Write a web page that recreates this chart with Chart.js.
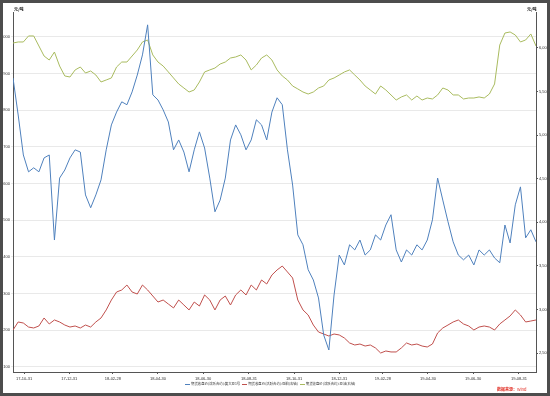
<!DOCTYPE html>
<html>
<head>
<meta charset="utf-8">
<script src="https://cdn.jsdelivr.net/npm/chart.js@4.4.0/dist/chart.umd.min.js"></script>
<style>
  html, body { margin: 0; padding: 0; background: #fff; }
  #wrap { position: relative; width: 550px; height: 396px; overflow: hidden;
          font-family: "Noto Sans CJK SC", "Liberation Sans", sans-serif; }
  #frame { position: absolute; left: 0; top: 0; width: 550px; height: 396px; box-sizing: border-box;
           border: 3px solid #4d4d4d; pointer-events: none; }
  canvas { position: absolute; left: 0; top: 0; }
  .unit { position: absolute; top: 7px; font-size: 4px; line-height: 5px; color: #222; font-weight: bold; }
  #legend { position: absolute; top: 381px; left: 183px; font-size: 3.4px; line-height: 5px; color: #333; white-space: nowrap; }
  #legend i { display: inline-block; width: 5px; height: 1px; vertical-align: middle; margin: 0 1px 0 2px; }
  #source { position: absolute; top: 387px; left: 497px; font-size: 4px; line-height: 5px; color: #e0281e; white-space: nowrap; }
</style>
</head>
<body>
<div id="wrap">
  <canvas id="js-chart-soy" width="550" height="396"></canvas>
  <div class="unit" style="left:14px">元/吨</div>
  <div class="unit" style="left:527px">元/吨</div>
  <div id="legend"></div>
  <div id="source"><b>数据来源：</b>Wind</div>
  <div id="frame"></div>
</div>
<script>
// weekly closes, first week starting here
const startDate = '2017-10-16';

const seriesNames = [
  '期货收盘价(活跃合约):黄大豆1号',
  '期货收盘价(活跃合约):豆粕(右轴)',
  '期货收盘价(活跃合约):豆油(右轴)'
];
const seriesColors = ['#4f81bd', '#c0504d', '#a9bb5f'];

// left axis
const soyBean = [
  3888, 3787, 3678, 3632, 3643, 3632, 3670, 3678, 3446, 3615,
  3637, 3670, 3692, 3686, 3569, 3534, 3569, 3610, 3692, 3760,
  3795, 3823, 3815, 3850, 3896, 3951, 4033, 3842, 3828, 3801,
  3768, 3692, 3719, 3686, 3632, 3692, 3741, 3697, 3615, 3523,
  3555, 3615, 3719, 3760, 3733, 3692, 3719, 3774, 3760, 3719,
  3795, 3834, 3815, 3692, 3596, 3460, 3433, 3365, 3337, 3288,
  3187, 3146, 3296, 3405, 3378, 3433, 3419, 3446, 3405, 3419,
  3460, 3446, 3487, 3515, 3419, 3386, 3419, 3405, 3433, 3419,
  3446, 3501, 3615, 3555, 3496, 3441, 3405, 3392, 3405, 3378,
  3419, 3405, 3419, 3397, 3384, 3487, 3438, 3542, 3591, 3452,
  3474, 3441
];

// right axis
const soyMeal = [
  2764, 2856, 2844, 2798, 2787, 2810, 2902, 2833, 2879, 2856,
  2821, 2798, 2810, 2787, 2821, 2798, 2856, 2902, 2994, 3108,
  3200, 3223, 3280, 3200, 3177, 3280, 3223, 3154, 3085, 3108,
  3062, 3017, 3108, 3051, 2994, 3085, 3039, 3166, 3108, 2994,
  3108, 3154, 3051, 3166, 3223, 3166, 3280, 3223, 3338, 3292,
  3395, 3453, 3498, 3430, 3361, 3108, 2994, 2936, 2821, 2741,
  2718, 2695, 2718, 2707, 2672, 2615, 2592, 2603, 2580, 2592,
  2558, 2500, 2523, 2512, 2512, 2558, 2615, 2592, 2603, 2580,
  2569, 2603, 2730, 2787, 2821, 2856, 2879, 2833, 2810, 2764,
  2798, 2810, 2798, 2764, 2833, 2879, 2925, 2994, 2936, 2856,
  2867, 2879
];

const soyOil = [
  6057, 6069, 6069, 6138, 6138, 6023, 5908, 5862, 5954, 5793,
  5679, 5667, 5748, 5782, 5713, 5736, 5690, 5610, 5633, 5656,
  5782, 5839, 5839, 5908, 5977, 6069, 6092, 5920, 5839, 5793,
  5725, 5656, 5587, 5541, 5495, 5518, 5610, 5725, 5748, 5770,
  5816, 5839, 5885, 5897, 5920, 5862, 5748, 5805, 5885, 5920,
  5862, 5748, 5679, 5633, 5564, 5530, 5495, 5472, 5495, 5541,
  5564, 5633, 5656, 5690, 5725, 5748, 5690, 5633, 5564, 5518,
  5472, 5564, 5518, 5461, 5403, 5438, 5461, 5403, 5449, 5403,
  5426, 5415, 5461, 5541, 5518, 5461, 5461, 5415, 5426, 5426,
  5438, 5426, 5472, 5587, 6034, 6172, 6184, 6149, 6069, 6092,
  6161, 6023
];

const tickDates = [
  '2017-10-31', '2017-12-31', '2018-02-28', '2018-04-30', '2018-06-30', '2018-08-31',
  '2018-10-31', '2018-12-31', '2019-02-28', '2019-04-30', '2019-06-30', '2019-08-31'
];
const leftTicks = [3100, 3200, 3300, 3400, 3500, 3600, 3700, 3800, 3900, 4000];
const rightTicks = [2500, 3000, 3500, 4000, 4500, 5000, 5500, 6000];

// build date categories and chart data
const day0 = Date.parse(startDate);
const dayOf = (s) => (Date.parse(s) - day0) / 864e5;
const weeks = soyBean.map((_, i) => new Date(day0 + i * 7 * 864e5).toISOString().slice(0, 10));
const toPoints = (arr) => arr.map((v, i) => ({ x: dayOf(weeks[i]), y: v }));

// legend as page text
document.getElementById('legend').innerHTML = seriesNames
  .map((n, i) => '<i style="background:' + seriesColors[i] + '"></i>' + n)
  .join('');

Chart.defaults.font.family = '"Liberation Sans", Arial, sans-serif';
Chart.defaults.font.size = 4;
Chart.defaults.color = '#333';

const tickFont = { size: 4, family: '"Liberation Sans", Arial, sans-serif' };

new Chart(document.getElementById('js-chart-soy'), {
  type: 'line',
  data: {
    datasets: [
      { label: seriesNames[0], data: toPoints(soyBean), yAxisID: 'yL', borderColor: seriesColors[0] },
      { label: seriesNames[1], data: toPoints(soyMeal), yAxisID: 'yR', borderColor: seriesColors[1] },
      { label: seriesNames[2], data: toPoints(soyOil), yAxisID: 'yR', borderColor: seriesColors[2] }
    ]
  },
  options: {
    responsive: false,
    animation: false,
    devicePixelRatio: 1,
    layout: { padding: { top: 12, left: 0, right: 0, bottom: 0 } },
    elements: {
      line: { borderWidth: 1, tension: 0 },
      point: { radius: 0, hoverRadius: 0 }
    },
    plugins: { legend: { display: false }, tooltip: { enabled: false } },
    scales: {
      x: {
        type: 'linear',
        min: 0,
        max: dayOf(weeks[weeks.length - 1]),
        afterBuildTicks: (s) => { s.ticks = tickDates.map((d) => ({ value: dayOf(d) })); },
        afterFit: (s) => { s.height = 24; },
        ticks: {
          font: tickFont, padding: 2, maxRotation: 0, autoSkip: false,
          callback: (v, i) => tickDates[i].slice(2)
        },
        grid: { drawOnChartArea: false, tickLength: 2, color: '#555' },
        border: { color: '#555' }
      },
      yL: {
        position: 'left',
        min: 3086,
        max: 4068,
        afterBuildTicks: (s) => { s.ticks = leftTicks.map((v) => ({ value: v })); },
        afterFit: (s) => { s.width = 13; },
        ticks: { font: tickFont, padding: 1 },
        grid: { color: '#e9e9e9', tickLength: 2 },
        border: { color: '#555' }
      },
      yR: {
        position: 'right',
        min: 2282,
        max: 6413,
        afterBuildTicks: (s) => { s.ticks = rightTicks.map((v) => ({ value: v })); },
        afterFit: (s) => { s.width = 14; },
        ticks: { font: tickFont, padding: 1 },
        grid: { drawOnChartArea: false, tickLength: 2, color: '#555' },
        border: { color: '#555' }
      }
    }
  }
});
</script>
</body>
</html>
